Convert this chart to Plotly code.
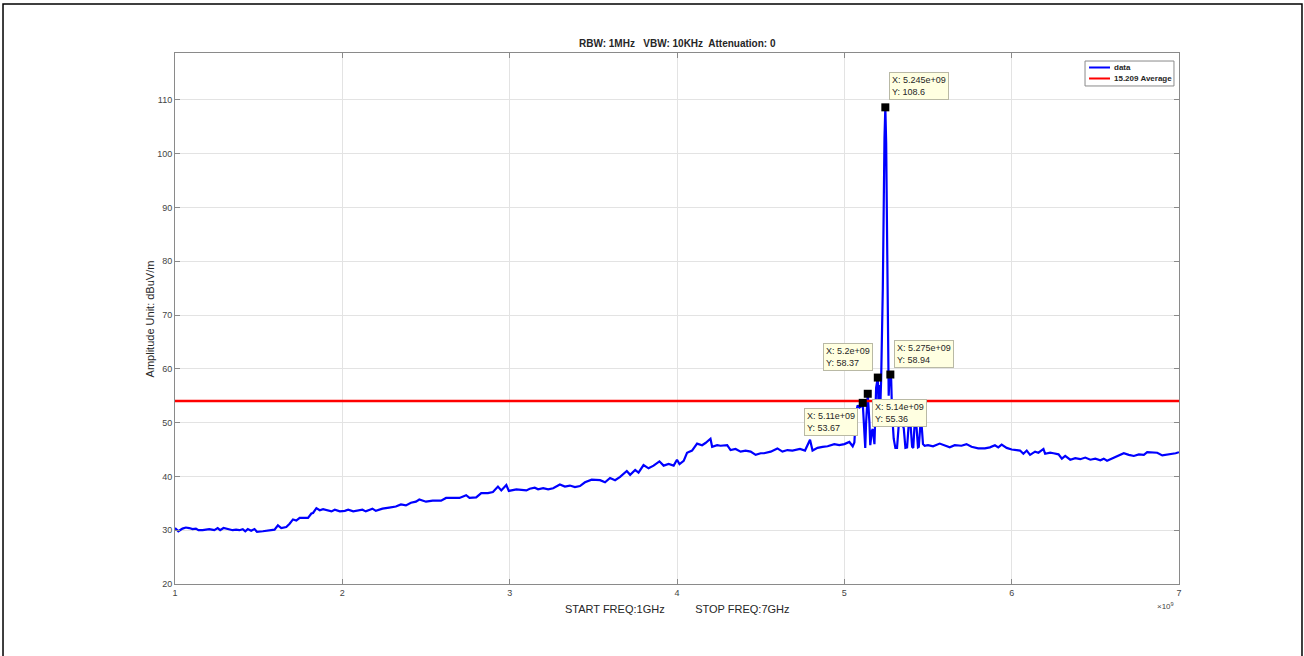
import plotly.graph_objects as go

# spectrum sweep, frequency in GHz and level in dBuV/m
freq_ghz = [
    1.00, 1.02, 1.045, 1.065, 1.085, 1.105, 1.125, 1.14, 1.165, 1.185, 1.205, 1.22, 1.235, 1.255, 1.27, 1.29,
    1.315, 1.345, 1.365, 1.385, 1.405, 1.42, 1.435, 1.455, 1.475, 1.49, 1.525, 1.565, 1.595, 1.615, 1.635,
    1.665, 1.685, 1.705, 1.725, 1.745, 1.775, 1.795, 1.815, 1.825, 1.845, 1.865, 1.885, 1.905, 1.935, 1.955,
    1.985, 2.015, 2.035, 2.065, 2.085, 2.105, 2.12, 2.14, 2.16, 2.18, 2.20, 2.24, 2.28, 2.32, 2.35, 2.38, 2.41,
    2.44, 2.46, 2.50, 2.54, 2.59, 2.62, 2.66, 2.70, 2.74, 2.76, 2.80, 2.83, 2.87, 2.90, 2.93, 2.95, 2.98, 2.995,
    3.04, 3.08, 3.10, 3.12, 3.15, 3.17, 3.20, 3.23, 3.26, 3.30, 3.33, 3.36, 3.39, 3.42, 3.45, 3.49, 3.54, 3.57,
    3.60, 3.63, 3.66, 3.70, 3.72, 3.75, 3.77, 3.80, 3.83, 3.86, 3.895, 3.92, 3.95, 3.98, 4.00, 4.015, 4.04,
    4.06, 4.09, 4.12, 4.15, 4.17, 4.20, 4.21, 4.24, 4.26, 4.30, 4.32, 4.35, 4.38, 4.41, 4.44, 4.47, 4.50, 4.52,
    4.56, 4.60, 4.63, 4.66, 4.69, 4.735, 4.765, 4.795, 4.81, 4.84, 4.87, 4.90, 4.94, 4.97, 5.00, 5.03, 5.05,
    5.06, 5.07, 5.08, 5.09, 5.10, 5.11, 5.12, 5.125, 5.13, 5.14, 5.15, 5.155, 5.165, 5.17, 5.18, 5.19, 5.20,
    5.205, 5.21, 5.215, 5.22, 5.23, 5.24, 5.245, 5.25, 5.26, 5.265, 5.27, 5.275, 5.28, 5.285, 5.295, 5.305,
    5.315, 5.325, 5.34, 5.355, 5.365, 5.375, 5.385, 5.395, 5.405, 5.412, 5.42, 5.43, 5.44, 5.445, 5.455,
    5.462, 5.47, 5.48, 5.50, 5.53, 5.57, 5.60, 5.63, 5.66, 5.70, 5.73, 5.76, 5.80, 5.84, 5.87, 5.90, 5.92,
    5.94, 5.97, 6.00, 6.03, 6.05, 6.07, 6.09, 6.11, 6.14, 6.16, 6.19, 6.20, 6.23, 6.25, 6.28, 6.30, 6.32, 6.35,
    6.38, 6.41, 6.44, 6.47, 6.50, 6.53, 6.55, 6.57, 6.60, 6.63, 6.67, 6.70, 6.73, 6.76, 6.79, 6.81, 6.84,
    6.87, 6.90, 6.93, 6.96, 6.98, 7.00,
]
level_dbuv = [
    30.4, 29.8, 30.3, 30.5, 30.4, 30.2, 30.3, 30.0, 30.0, 30.1, 30.2, 30.1, 30.0, 30.4, 30.0, 30.4,
    30.2, 30.0, 30.1, 30.0, 30.2, 29.8, 30.2, 29.9, 30.2, 29.7, 29.8, 30.0, 30.1, 30.9, 30.4,
    30.6, 31.2, 32.0, 31.8, 32.3, 32.3, 32.3, 33.1, 33.2, 34.1, 33.7, 33.9, 33.7, 33.5, 33.8,
    33.5, 33.6, 33.8, 33.5, 33.6, 33.7, 33.8, 33.5, 33.8, 34.0, 33.6, 34.0, 34.2, 34.4, 34.8, 34.6, 35.1,
    35.3, 35.7, 35.3, 35.5, 35.5, 36.0, 36.0, 36.0, 36.5, 36.0, 36.1, 36.9, 36.9, 37.1, 38.1, 37.4, 38.4, 37.3,
    37.6, 37.5, 37.4, 37.7, 37.9, 37.6, 37.8, 37.6, 37.8, 38.5, 38.1, 38.3, 38.0, 38.2, 38.9, 39.4, 39.3, 38.9,
    39.7, 39.3, 39.9, 41.0, 40.3, 41.2, 40.7, 42.1, 41.5, 42.0, 42.8, 42.0, 42.3, 42.0, 43.1, 42.3, 42.9,
    44.4, 44.8, 46.1, 45.8, 46.2, 47.0, 45.5, 45.8, 45.7, 45.8, 44.9, 45.1, 44.6, 44.8, 44.6, 44.0, 44.3, 44.3,
    44.6, 45.2, 44.6, 44.9, 44.8, 45.1, 44.8, 46.8, 44.8, 45.3, 45.5, 45.6, 46.0, 45.8, 46.0, 46.4, 45.6,
    46.3, 52.0, 53.2, 52.8, 53.0, 53.67, 46.5, 45.3, 50.0, 55.36, 50.0, 45.8, 48.5, 48.8, 46.0, 56.5, 58.37,
    52.0, 57.0, 53.0, 58.0, 75.0, 103.0, 108.6, 102.0, 72.0, 55.0, 58.5, 58.94, 58.0, 52.0, 47.0, 45.3,
    45.3, 49.5, 50.0, 49.0, 45.3, 45.4, 49.8, 50.0, 45.5, 45.3, 49.7, 49.8, 45.4, 45.5, 49.8,
    49.5, 46.0, 45.7, 45.8, 45.6, 46.1, 45.7, 45.4, 45.8, 45.7, 46.0, 45.5, 45.2, 45.2, 45.4, 45.8, 45.4,
    45.9, 45.3, 45.0, 44.9, 44.8, 44.2, 44.8, 44.0, 44.6, 44.4, 45.1, 44.2, 44.4, 44.3, 44.1, 43.3, 43.8, 43.1,
    43.4, 43.2, 43.5, 43.1, 43.3, 43.0, 43.3, 42.9, 43.3, 43.8, 44.3, 44.0, 43.8, 44.1, 44.0, 44.5, 44.4,
    44.4, 43.9, 44.0, 44.1, 44.3, 44.5,
]

limit_level = 54
limit_span_ghz = [1.0, 7.0]

# data tips
tip_freq = [5.245, 5.2, 5.275, 5.11, 5.14]
tip_level = [108.6, 58.37, 58.94, 53.67, 55.36]
tip_xtext = ["5.245e+09", "5.2e+09", "5.275e+09", "5.11e+09", "5.14e+09"]
tip_ytext = ["108.6", "58.37", "58.94", "53.67", "55.36"]
tip_side = [("left", "bottom"), ("right", "bottom"), ("left", "bottom"), ("right", "top"), ("left", "top")]

x_ticks = [1, 2, 3, 4, 5, 6, 7]
y_ticks = [20, 30, 40, 50, 60, 70, 80, 90, 100, 110]

legend_names = ["data", "15.209 Average"]
legend_colors = ["#0000ff", "#ff0000"]

fig = go.Figure()
fig.add_trace(go.Scatter(x=[f * 1e9 for f in freq_ghz], y=level_dbuv, mode="lines", name=legend_names[0],
                         line=dict(color=legend_colors[0], width=2.2)))
fig.add_trace(go.Scatter(x=[f * 1e9 for f in limit_span_ghz], y=[limit_level] * 2, mode="lines",
                         name=legend_names[1], line=dict(color=legend_colors[1], width=2.5)))
fig.add_trace(go.Scatter(x=[f * 1e9 for f in tip_freq], y=tip_level, mode="markers", showlegend=False,
                         marker=dict(symbol="square", size=8, color="black")))

for f, lv, xt, yt, (xa, ya) in zip(tip_freq, tip_level, tip_xtext, tip_ytext, tip_side):
    fig.add_annotation(x=f * 1e9, y=lv, text=f"X: {xt}<br>Y: {yt}", showarrow=False, align="left",
                       xanchor=xa, yanchor=ya, xshift=4 if xa == "left" else -5,
                       yshift=7 if ya == "bottom" else -5,
                       bgcolor="#ffffe1", bordercolor="#b9b9a5", borderwidth=1, borderpad=2,
                       font=dict(family="Arial", size=9, color="#262626"))

axis_common = dict(showline=True, linecolor="#8a8a8a", linewidth=1, mirror="ticks", ticks="inside",
                   ticklen=5, tickcolor="#8a8a8a", showgrid=True, gridcolor="#e3e3e3", gridwidth=1,
                   zeroline=False, tickfont=dict(family="Arial", size=9, color="#444444"))
fig.update_xaxes(range=[1e9, 7e9], tickvals=[t * 1e9 for t in x_ticks], ticktext=[str(t) for t in x_ticks],
                 **axis_common)
fig.update_yaxes(range=[20, 118.7], tickvals=y_ticks, **axis_common)

# titles and labels
fig.add_annotation(xref="paper", yref="paper", x=0.5, y=1.017, text="<b>RBW: 1MHz   VBW: 10KHz  Attenuation: 0</b>",
                   showarrow=False, yanchor="middle", font=dict(family="Arial", size=10, color="#262626"))
fig.add_annotation(xref="paper", yref="paper", x=-0.025, y=0.5, text="Amplitude Unit: dBuV/m", textangle=-90,
                   showarrow=False, xanchor="center", font=dict(family="Arial", size=11, color="#262626"))
fig.add_annotation(xref="paper", yref="paper", x=0.5, y=-0.047,
                   text="START FREQ:1GHz          STOP FREQ:7GHz",
                   showarrow=False, yanchor="middle", font=dict(family="Arial", size=11, color="#262626"))
fig.add_annotation(xref="paper", yref="paper", x=0.987, y=-0.042, text="\u00d710<sup>9</sup>",
                   showarrow=False, xanchor="center", yanchor="middle",
                   font=dict(family="Arial", size=8, color="#444444"))

# legend box drawn in the corner like the MATLAB one
fig.add_shape(type="rect", xref="paper", yref="paper", x0=0.9064, x1=0.995, y0=0.9379, y1=0.9849,
              line=dict(color="#8a8a8a", width=1), fillcolor="white")
for i, (name, col) in enumerate(zip(legend_names, legend_colors)):
    yy = 0.9727 - i * 0.0207
    fig.add_shape(type="line", xref="paper", yref="paper", x0=0.9104, x1=0.9313, y0=yy, y1=yy,
                  line=dict(color=col, width=2))
    fig.add_annotation(xref="paper", yref="paper", x=0.9333, y=yy, text=f"<b>{name}</b>", showarrow=False,
                       xanchor="left", yanchor="middle", font=dict(family="Arial", size=8, color="#262626"))

# page frame
fig.add_shape(type="rect", xref="paper", yref="paper", x0=-0.1713, x1=1.1225, y0=-0.15, y1=1.0923,
              line=dict(color="#000000", width=1.5), fillcolor="rgba(0,0,0,0)")

fig.update_layout(
    width=1304, height=656,
    margin=dict(l=175, r=125, t=53, b=72),
    paper_bgcolor="white", plot_bgcolor="white",
    showlegend=False,
)

fig.write_html("out.html", config={"displayModeBar": False},
               post_script="document.body.style.margin='0px';")
